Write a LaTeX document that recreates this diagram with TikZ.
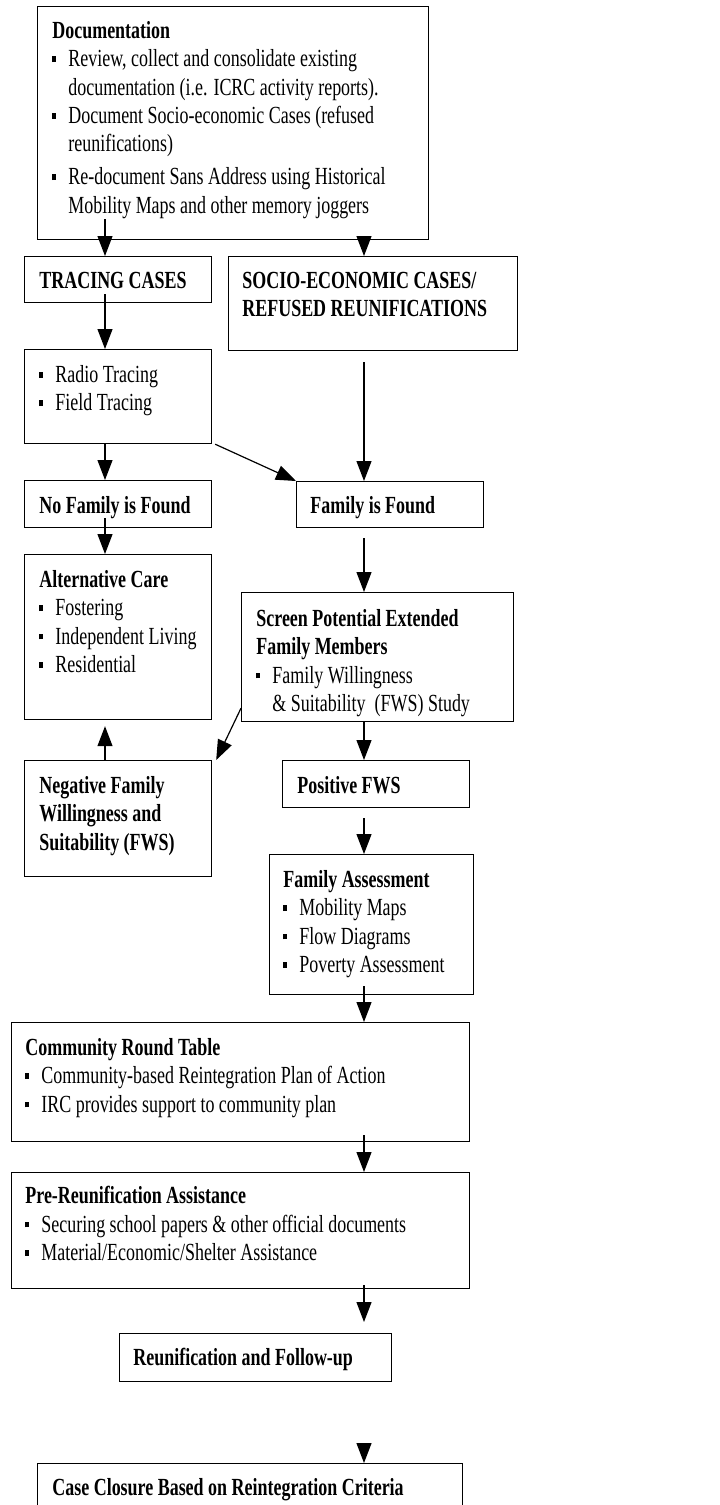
\documentclass[tikz,border=0pt]{standalone}
\usepackage{fontspec}
\setmainfont{Liberation Serif}[FakeStretch=0.73]
\usetikzlibrary{arrows.meta}
\newcommand{\bul}{\makebox[8pt][l]{\rule[2.3pt]{1.8pt}{2.9pt}}}
\newcommand{\ind}{\hspace*{8pt}}
\begin{document}
\begin{tikzpicture}
[x=0.5pt,y=-0.5pt,
  box/.style={draw,line width=0.6pt,inner sep=0pt,anchor=north west},%
  txt/.style={anchor=north west,inner sep=0pt,align=left,
    font=\fontsize{12.3}{14.15}\selectfont},%
  arr/.style={-{Triangle[width=7.5pt,length=10pt]},line width=0.6pt}]
\useasboundingbox (0,0) rectangle (719,1505);
%% boxes
\foreach \nodename/\x/\y/\w/\h in {doc/37/6/391/233, tracing/24/256/187/46,
  socio/228/256/289/94, radio/24/349/187/94, nofam/24/480/187/47,
  found/296/481/187/46, alt/24/554/187/165, screen/241/592/272/129,
  negative/24/760/187/116, positive/282/760/187/47, assess/269/854/204/140,
  community/11/1022/458/119, prereunif/11/1172/458/116,
  reunif/119/1333/272/48, closure/37/1463/425/80}
{
  \node (\nodename) at (\x,\y) [box,minimum width=\w*0.5pt,minimum height=\h*0.5pt] {};
}
%% texts
\node[txt] (doctxt) at (52,21) {\textbf{Documentation}\\
  \bul Review, collect and consolidate existing\\
  \ind documentation (i.e. ICRC activity reports).\\
  \bul Document Socio-economic Cases (refused\\
  \ind reunifications)\\[2.4pt]
  \bul Re-document Sans Address using Historical\\
  \ind Mobility Maps and other memory joggers};
\node[txt] (tracingtxt) at (39,272) {\textbf{TRACING CASES}};
\node[txt] (sociotxt) at (242,272) {\textbf{SOCIO-ECONOMIC CASES/}\\
  \textbf{REFUSED REUNIFICATIONS}};
\node[txt] (radiotxt) at (39,365) {\bul Radio Tracing\\ \bul Field Tracing};
\node[txt] (nofamtxt) at (39,496) {\textbf{No Family is Found}};
\node[txt] (foundtxt) at (310,496) {\textbf{Family is Found}};
\node[txt] (alttxt) at (39,570) {\textbf{Alternative Care}\\
  \bul Fostering\\ \bul Independent Living\\ \bul Residential};
\node[txt] (screentxt) at (256,609) {\textbf{Screen Potential Extended}\\
  \textbf{Family Members}\\
  \bul Family Willingness\\
  \ind \& Suitability\ \ (FWS) Study};
\node[txt] (negativetxt) at (39,776) {\textbf{Negative Family}\\
  \textbf{Willingness and}\\ \textbf{Suitability (FWS)}};
\node[txt] (positivetxt) at (297,776) {\textbf{Positive FWS}};
\node[txt] (assesstxt) at (283,870) {\textbf{Family Assessment}\\
  \bul Mobility Maps\\ \bul Flow Diagrams\\ \bul Poverty Assessment};
\node[txt] (communitytxt) at (25,1038) {\textbf{Community Round Table}\\
  \bul Community-based Reintegration Plan of Action\\
  \bul IRC provides support to community plan};
\node[txt] (prereuniftxt) at (25,1186) {\textbf{Pre-Reunification Assistance}\\
  \bul Securing school papers \& other official documents\\
  \bul Material/Economic/Shelter Assistance};
\node[txt] (reuniftxt) at (133,1348) {\textbf{Reunification and Follow-up}};
\node[txt] (closuretxt) at (52,1478) {\textbf{Case Closure Based on Reintegration Criteria}};
%% arrows
\coordinate (lcol) at (105,0);
\coordinate (rcol) at (364,0);
\draw[arr] ([yshift=10.5pt]doc.south -| lcol) -- (tracing.north -| lcol);
\draw[arr] (doc.south -| rcol) -- (socio.north -| rcol);
\draw[arr] ([yshift=4.5pt]tracing.south -| lcol) -- (radio.north -| lcol);
\draw[arr] (radio.south -| lcol) -- (nofam.north -| lcol);
\draw[arr] ([xshift=1.5pt]radio.south east) -- (found.north west);
\draw[arr] ([yshift=-5.5pt]socio.south -| rcol) -- (found.north -| rcol);
\draw[arr] ([yshift=5pt]nofam.south -| lcol) -- (alt.north -| lcol);
\draw[arr] ([yshift=-5pt]found.south -| rcol) -- (screen.north -| rcol);
\draw[arr] ([yshift=7pt]screen.south west) -- ([xshift=2pt]negative.north east);
\draw[arr] (negative.north -| lcol) -- ([yshift=-3pt]alt.south -| lcol);
\draw[arr] (screen.south -| rcol) -- (positive.north -| rcol);
\draw[arr] ([yshift=-5pt]positive.south -| rcol) -- (assess.north -| rcol);
\draw[arr] ([yshift=4.5pt]assess.south -| rcol) -- (community.north -| rcol);
\draw[arr] ([yshift=3.5pt]community.south -| rcol) -- (prereunif.north -| rcol);
\draw[arr] ([yshift=2pt]prereunif.south -| rcol) -- ([yshift=5.5pt]reunif.north -| rcol);
\draw[arr] ([yshift=10pt]closure.north -| rcol) -- (closure.north -| rcol);
\end{tikzpicture}
\end{document}
